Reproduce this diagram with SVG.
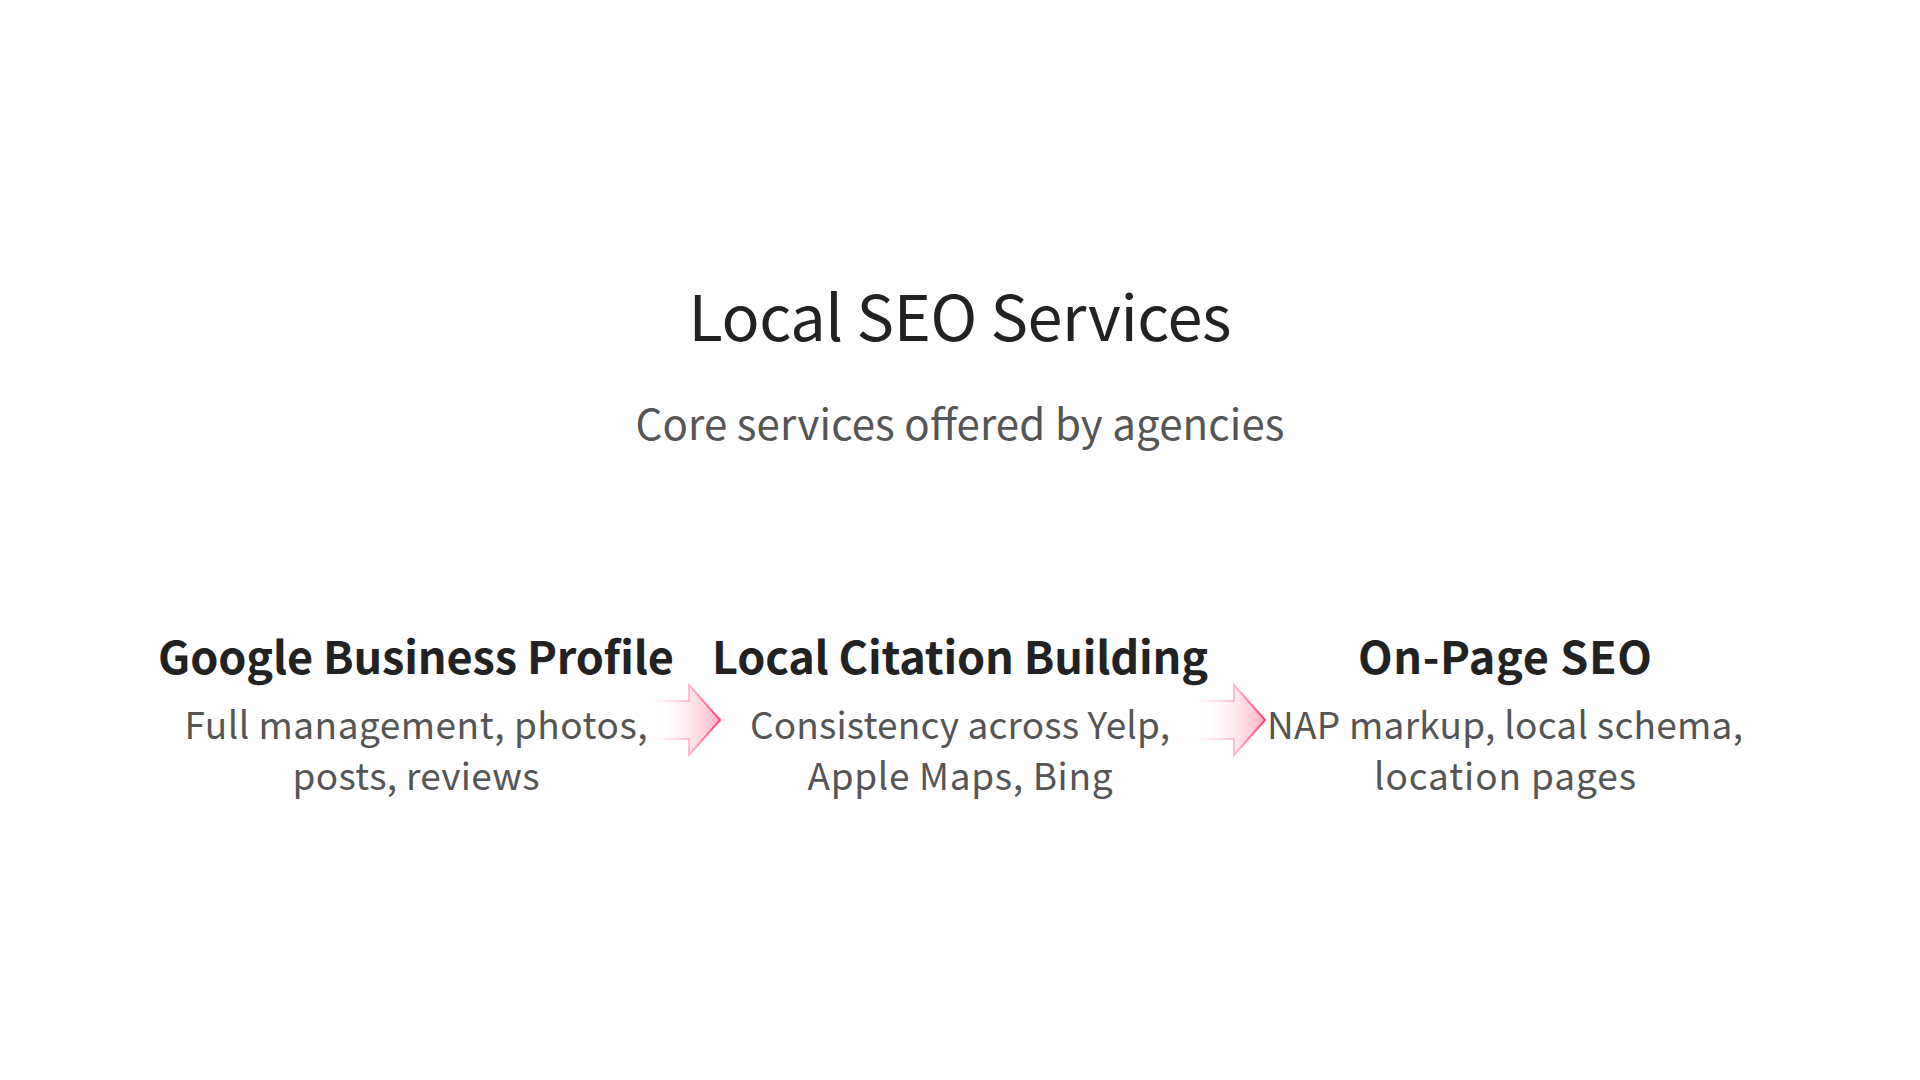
<svg xmlns="http://www.w3.org/2000/svg" width="1920" height="1080" viewBox="0 0 1920 1080">
  <style>
    .title { font-family: "Noto Sans CJK SC", "Noto Sans", sans-serif; font-size: 63px; fill: #222222; text-anchor: middle; }
    .subtitle { font-family: "Noto Sans CJK SC", "Noto Sans", sans-serif; font-size: 42px; fill: #555555; text-anchor: middle; }
    .head { font-family: "Noto Sans CJK SC", "Noto Sans", sans-serif; font-size: 45px; font-weight: bold; fill: #222222; text-anchor: middle; }
    .desc { font-family: "Noto Sans CJK SC", "Noto Sans", sans-serif; font-size: 37px; fill: #555555; text-anchor: middle; }
    .arrow { fill: url(#arrowFill); stroke: url(#arrowStroke); stroke-width: 2; stroke-linejoin: miter; }
  </style>
  <defs>
    <linearGradient id="arrowFill" x1="0" y1="0" x2="1" y2="0">
      <stop offset="0" stop-color="#ffffff" stop-opacity="0"/>
      <stop offset="1" stop-color="#ff7a9c" stop-opacity="0.6"/>
    </linearGradient>
    <linearGradient id="arrowStroke" x1="0" y1="0" x2="1" y2="0">
      <stop offset="0" stop-color="#ffb3c6" stop-opacity="0"/>
      <stop offset="0.5" stop-color="#ffb3c6" stop-opacity="0.8"/>
      <stop offset="1" stop-color="#ff3d6e" stop-opacity="1"/>
    </linearGradient>
  </defs>
  <rect width="1920" height="1080" fill="#ffffff"/>
  <g id="header">
    <text class="title" x="960" y="341" textLength="543" lengthAdjust="spacing">Local SEO Services</text>
    <text class="subtitle" x="960" y="440" textLength="649" lengthAdjust="spacing">Core services offered by agencies</text>
  </g>
  <g id="connectors">
    <path class="arrow" d="M655,701 L689,701 L689,685 L720,720 L689,755 L689,739 L655,739 Z"/>
    <path class="arrow" d="M1200,701 L1234,701 L1234,685 L1265,720 L1234,755 L1234,739 L1200,739 Z"/>
  </g>
  <g id="node-gbp">
    <text class="head" x="416" y="674" textLength="516" lengthAdjust="spacing">Google Business Profile</text>
    <text class="desc" x="416" y="739" textLength="463" lengthAdjust="spacing">Full management, photos,</text>
    <text class="desc" x="416" y="790" textLength="247" lengthAdjust="spacing">posts, reviews</text>
  </g>
  <g id="node-citation">
    <text class="head" x="960" y="674" textLength="496" lengthAdjust="spacing">Local Citation Building</text>
    <text class="desc" x="960" y="739" textLength="420" lengthAdjust="spacing">Consistency across Yelp,</text>
    <text class="desc" x="960" y="790" textLength="305" lengthAdjust="spacing">Apple Maps, Bing</text>
  </g>
  <g id="node-onpage">
    <text class="head" x="1505" y="674" textLength="294" lengthAdjust="spacing">On-Page SEO</text>
    <text class="desc" x="1505" y="739" textLength="476" lengthAdjust="spacing">NAP markup, local schema,</text>
    <text class="desc" x="1505" y="790" textLength="262" lengthAdjust="spacing">location pages</text>
  </g>
</svg>
